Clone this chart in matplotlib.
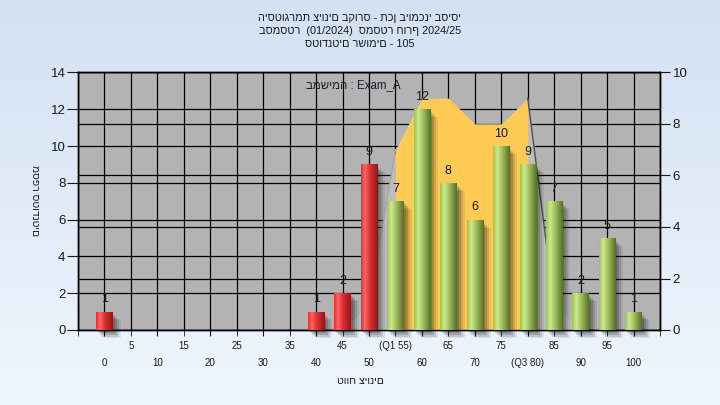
import numpy as np
import matplotlib
matplotlib.use('Agg')
import matplotlib.pyplot as plt
from matplotlib.colors import LinearSegmentedColormap
from matplotlib.patches import Rectangle
import matplotlib.transforms as mtransforms

plt.rcParams['font.family'] = ['Liberation Sans', 'DejaVu Sans']

# ---------------- data ----------------
categories = [0, 5, 10, 15, 20, 25, 30, 35, 40, 45, 50, 55, 60, 65, 70, 75, 80, 85, 90, 95, 100]
tick_labels = ['0', '5', '10', '15', '20', '25', '30', '35', '40', '45', '50', '(Q1 55)',
               '60', '65', '70', '75', '(Q3 80)', '85', '90', '95', '100']
counts = [1, 0, 0, 0, 0, 0, 0, 0, 1, 2, 9, 7, 12, 8, 6, 10, 9, 7, 2, 5, 1]
pass_threshold = 55
iqr_curve = [0, 0, 0, 0, 0, 0, 0, 0, 0, 0, 1, 7, 9, 9, 8, 8, 9, 1, 0, 0, 0]
q1, q3 = 55, 80

title_lines = ['היסטוגרמת ציונים בקורס - תכן ביומכני בסיסי',
               'בסמסטר  (01/2024)  סמסטר חורף 2024/25',
               'סטודנטים רשומים - 105']
y_label = 'מספר סטודנטים'
x_label = 'טווח ציונים'
exam_note = 'במשימה : Exam_A'

# ---------------- figure ----------------
W, H = 720, 405
fig = plt.figure(figsize=(W / 100, H / 100), dpi=100)

bg = fig.add_axes([0, 0, 1, 1], zorder=-10)
bg_cmap = LinearSegmentedColormap.from_list('bg', ['#d3e1f3', '#f0f6fe'])
bg.imshow(np.linspace(0, 1, 256).reshape(-1, 1), aspect='auto', cmap=bg_cmap,
          extent=[0, 1, 0, 1], origin='upper')
bg.axis('off')

left, right, top, bottom = 78, 660, 72.5, 330
rect = [left / W, 1 - bottom / H, (right - left) / W, (bottom - top) / H]

x = np.arange(len(categories))
cats = np.array(categories)
txt_color = '#1a1a1a'

# bottom layer: gray plot area, left scale grid
ax = fig.add_axes(rect, zorder=0)
ax.set_facecolor('#b3b3b3')
ax.set_xlim(-1, len(x))
ax.set_ylim(0, 14)
ax.set_yticks(range(0, 15, 2))
ax.set_xticks(x[::2])
ax.set_xticklabels(tick_labels[::2])
minor_locs = np.concatenate([[-1], x[1::2], [len(x)]])
ax.set_xticks(minor_locs, minor=True)
ax.set_xticklabels([''] + tick_labels[1::2] + [''], minor=True)
ax.grid(axis='y', color='black', lw=0.9)
ax.grid(axis='x', which='both', color='black', lw=0.9)
ax.tick_params(axis='x', which='major', length=4, pad=16, labelsize=7, colors=txt_color)
ax.tick_params(axis='x', which='minor', length=4, pad=4, labelsize=7, colors=txt_color)
ax.tick_params(axis='y', length=8, pad=1, labelsize=9.5, colors=txt_color)
for s in ax.spines.values():
    s.set_color('black')
    s.set_linewidth(1)

# middle layer: right scale with IQR area
ax2 = ax.twinx()
ax2.set_zorder(1)
ax2.patch.set_visible(False)
ax2.set_ylim(0, 10)
ax2.set_yticks(range(0, 11, 2))
ax2.set_axisbelow(True)
ax2.grid(axis='y', color='black', lw=0.9)
ax2.tick_params(axis='y', length=7, pad=2, labelsize=9.5, colors=txt_color)
curve = np.array(iqr_curve, dtype=float)
ax2.fill_between(x, curve, color='#bdbdbd', lw=0, zorder=1)
mask = (cats >= q1) & (cats <= q3)
ax2.fill_between(x[mask], curve[mask], color='#ffcb55', lw=0, zorder=2)
i1 = int(np.argmax(cats == q1))
i3 = int(np.argmax(cats == q3))
ax2.plot(x[i1 - 1:i1 + 1], curve[i1 - 1:i1 + 1], color='#a8a8a8', lw=1, zorder=3)
ax2.plot(x[i3:i3 + 2], curve[i3:i3 + 2], color='#505050', lw=1, zorder=3)
for s in ax2.spines.values():
    s.set_color('black')
    s.set_linewidth(1)

# top layer: bars
ax3 = fig.add_axes(rect, sharex=ax, sharey=ax, zorder=2)
ax3.patch.set_visible(False)
ax3.axis('off')

red_cmap = LinearSegmentedColormap.from_list(
    'r', [(0, '#ff2424'), (0.22, '#ff6a6a'), (0.5, '#e03232'), (1, '#8a1a1a')])
green_cmap = LinearSegmentedColormap.from_list(
    'g', [(0, '#9cc64e'), (0.25, '#cce98e'), (0.6, '#98b656'), (1, '#56702c')])

bw = 0.62
vals = np.array(counts)
bar_colors = ['#d83030' if c < pass_threshold else '#98b656' for c in cats]
show = vals > 0

for k, (dx, dy, a) in enumerate([(2, -3, 0.16), (4, -5, 0.16), (6, -7, 0.12), (8, -8, 0.07)]):
    tr = mtransforms.offset_copy(ax3.transData, fig=fig, x=dx, y=dy, units='dots')
    for xi, v in zip(x[show], vals[show]):
        ax3.add_patch(Rectangle((xi - bw / 2, 0), bw, v, transform=tr, color='black',
                                alpha=a, lw=0, clip_on=False, zorder=1))

bars = ax3.bar(x[show], vals[show], width=bw, color=np.array(bar_colors)[show], zorder=2)
grad_row = np.linspace(0, 1, 64).reshape(1, -1)
for patch, c in zip(bars.patches, cats[show]):
    cm = red_cmap if c < pass_threshold else green_cmap
    x0 = patch.get_x()
    im = ax3.imshow(grad_row, cmap=cm, aspect='auto', zorder=3,
                    extent=[x0, x0 + patch.get_width(), 0, patch.get_height()])
    im.set_clip_path(patch)

for xi, v in zip(x[show], vals[show]):
    ax3.annotate(str(v), (xi, v), xytext=(0, 4.5), textcoords='offset points',
                 ha='center', va='bottom', fontsize=9, color=txt_color, zorder=5)

ax3.text((353 - left) / (right - left), (bottom - 85) / (bottom - top), exam_note,
         transform=ax3.transAxes, ha='center', va='center', fontsize=8.3, color='#1a1a2a')

ax.set_xlim(-1, len(x))
ax.set_ylim(0, 14)

# texts
for i, line in enumerate(title_lines):
    fig.text(0.5, 1 - (18 + 13 * i) / H, line, ha='center', va='center',
             fontsize=7.8, color=txt_color)
fig.text(35 / W, 1 - 201 / H, y_label, rotation=270, ha='center', va='center',
         fontsize=7.5, color=txt_color)
fig.text(360 / W, 1 - 381 / H, x_label, ha='center', va='center',
         fontsize=7.5, color=txt_color)

fig.savefig('out.png', dpi=100)
